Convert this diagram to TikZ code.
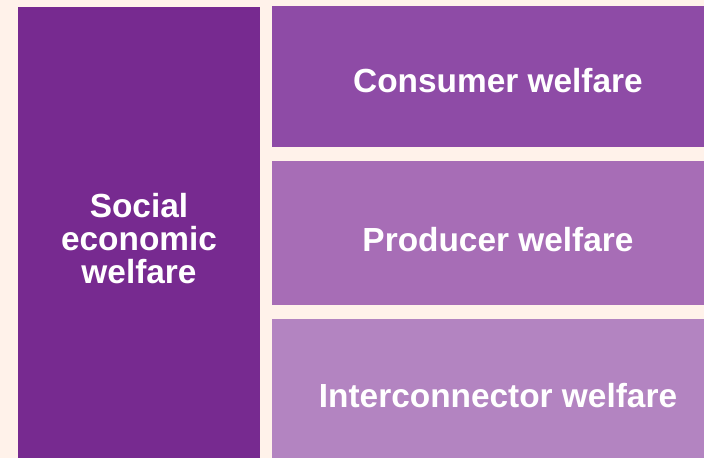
\documentclass[tikz,border=0pt]{standalone}
\usepackage{fontspec}
\setmainfont{Liberation Sans}
\definecolor{bgc}{HTML}{FFF2EA}
\definecolor{seW}{HTML}{772A90}
\definecolor{cW}{HTML}{8E4BA6}
\definecolor{pW}{HTML}{A76DB6}
\definecolor{iW}{HTML}{B384C1}
\tikzset{
  panel/.style={inner sep=0pt, outer sep=0pt, text=white, font=\fontsize{33.4}{33}\selectfont\bfseries, align=center},
}
\begin{document}
\begin{tikzpicture}[x=1pt,y=-1pt]
\fill[bgc] (0,0) rectangle (704,458);
\useasboundingbox (0,0) rectangle (704,458);
\fill[seW] (18,7) rectangle (260,458);
\fill[cW] (272,6) rectangle (704,147);
\fill[pW] (272,161) rectangle (704,305);
\fill[iW] (272,319) rectangle (704,458);
\node[panel] (sew) at (139,239) {Social\\economic\\welfare};
\node[panel] (cw) at (498,81) {Consumer welfare};
\node[panel] (pw) at (498,240) {Producer welfare};
\node[panel] (iw) at (498,396) {Interconnector welfare};
\end{tikzpicture}
\end{document}
